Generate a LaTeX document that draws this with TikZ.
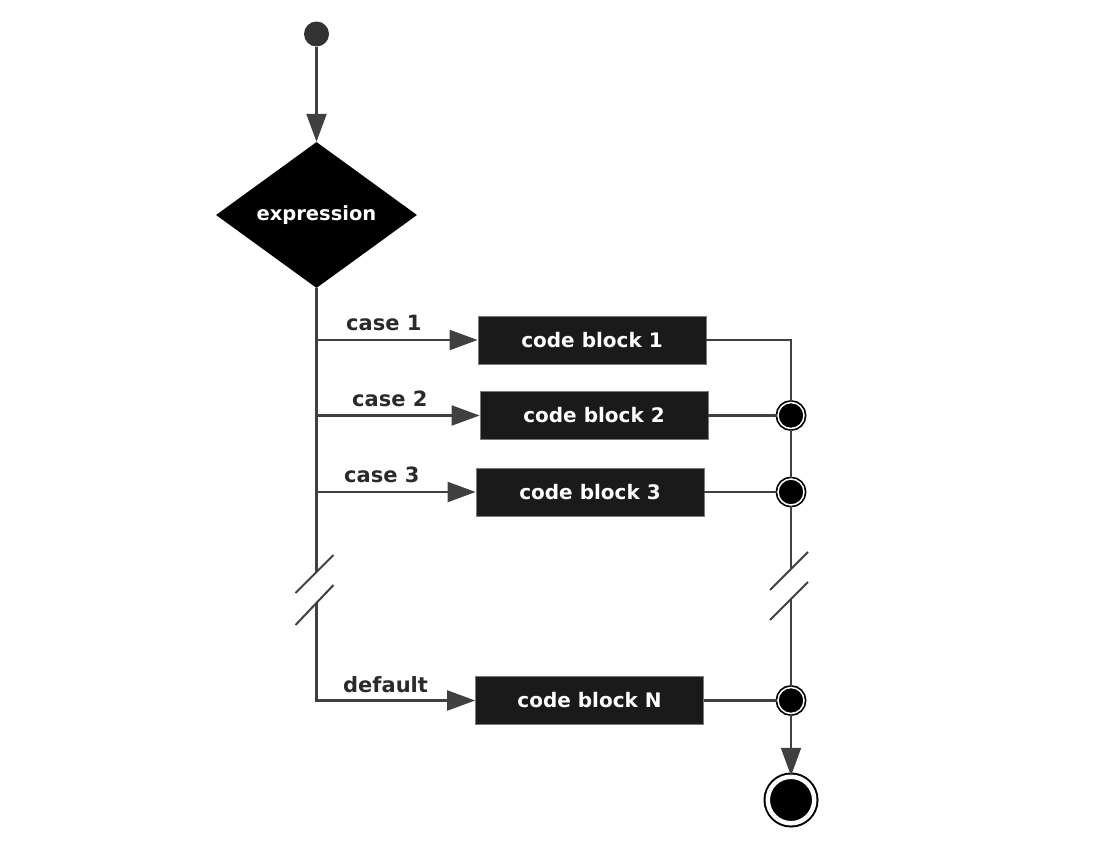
\documentclass[tikz,border=0pt]{standalone}
\usepackage{fontspec}
\setmainfont{DejaVu Sans}
\usepackage{tikz}
\usetikzlibrary{shapes.geometric,arrows.meta}
\definecolor{linegray}{HTML}{404040}
\definecolor{startgray}{HTML}{333333}
\definecolor{boxblack}{HTML}{1A1A1A}
\definecolor{boxedge}{HTML}{7A7A7A}
\definecolor{labelgray}{HTML}{2A2A2A}
\newcommand{\cblk}[1]{code block #1}

\begin{document}
\begin{tikzpicture}[x=1pt,y=-1pt]
                        \tikzstyle{wire}=[draw=linegray,line width=2.2pt]
                        \tikzstyle{flow}=[wire,-{Triangle[length=28pt,width=20pt]}]
                        \tikzstyle{block}=[rectangle,fill=boxblack,draw=boxedge,line width=0.8pt,minimum width=228pt,minimum height=48pt,inner sep=0pt,text=white,font=\fontsize{20}{24}\selectfont\bfseries]
                        \tikzstyle{caselbl}=[anchor=base west,inner sep=0pt,text=labelgray,font=\fontsize{21}{25}\selectfont\bfseries]
                        \tikzstyle{junction}=[circle,draw=black,double=white,double distance=1.5pt,line width=1.7pt,fill=black,minimum size=26pt,inner sep=0pt]
                        \tikzstyle{brk}=[draw=linegray,line width=2pt]
                        \useasboundingbox (0,0) rectangle (1102,862);
                        \node[circle,fill=startgray,minimum size=25pt,inner sep=0pt] (start) at (316.5,34) {};
                        \node[diamond,fill=black,aspect=1.37,minimum width=201pt,minimum height=146pt,inner sep=0pt,text=white,font=\fontsize{19.5}{23}\selectfont\bfseries] (expr) at (316.5,215) {expression};
                        \node[block] (b1) at (592,340) {\cblk{1}};
                        \node[block] (b2) at (594,415.5) {\cblk{2}};
                        \node[block] (b3) at (590,492) {\cblk{3}};
                        \node[block] (bN) at (589.5,700.5) {\cblk{N}};
                        \node[caselbl] (l1) at (346,330) {case 1};
                        \node[caselbl] (l2) at (352,406) {case 2};
                        \node[caselbl] (l3) at (344,482) {case 3};
                        \node[caselbl] (lN) at (343,692) {default};
                        \coordinate (c1) at (316.5,340);
                        \coordinate (c2) at (316.5,415.5);
                        \coordinate (c3) at (316.5,492);
                        \coordinate (cN) at (316.5,700.5);
                        \coordinate (lbrk1) at (316.5,572);
                        \coordinate (lbrk2) at (316.5,603);
                        \coordinate (r1) at (791,340);
                        \coordinate (rbrk1) at (791,569);
                        \coordinate (rbrk2) at (791,599);
                        \node[junction] (j2) at (791,415.5) {};
                        \node[junction] (j3) at (791,492) {};
                        \node[junction] (jN) at (791,700.5) {};
                        \node[circle,draw=black,double=white,double distance=4.5pt,line width=2pt,fill=black,minimum size=46.5pt,inner sep=0pt] (end) at (791,800) {};
                        \draw[flow] (start) -- (expr);
                        \draw[wire] (expr.south) -- (lbrk1);
                        \draw[flow] (lbrk2) -- (cN) -- (bN);
                        \draw[flow] (c1) -- (b1);
                        \draw[flow] (c2) -- (b2);
                        \draw[flow] (c3) -- (b3);
                        \draw[wire] (b1) -- (r1) -- (j2);
                        \draw[wire] (b2) -- (j2);
                        \draw[wire] (b3) -- (j3);
                        \draw[wire] (bN) -- (jN);
                        \draw[wire] (j2) -- (j3);
                        \draw[wire] (j3) -- (rbrk1);
                        \draw[wire] (rbrk2) -- (jN);
                        \draw[flow] (jN) -- (end);
                        \draw[brk] ([shift={(-21,21)}]lbrk1) -- ([shift={(17,-17)}]lbrk1);
                        \draw[brk] ([shift={(-21,22)}]lbrk2) -- ([shift={(17,-18)}]lbrk2);
                        \draw[brk] ([shift={(-21,21)}]rbrk1) -- ([shift={(17,-17)}]rbrk1);
                        \draw[brk] ([shift={(-21,21)}]rbrk2) -- ([shift={(17,-17)}]rbrk2);
                    \end{tikzpicture}
\end{document}
